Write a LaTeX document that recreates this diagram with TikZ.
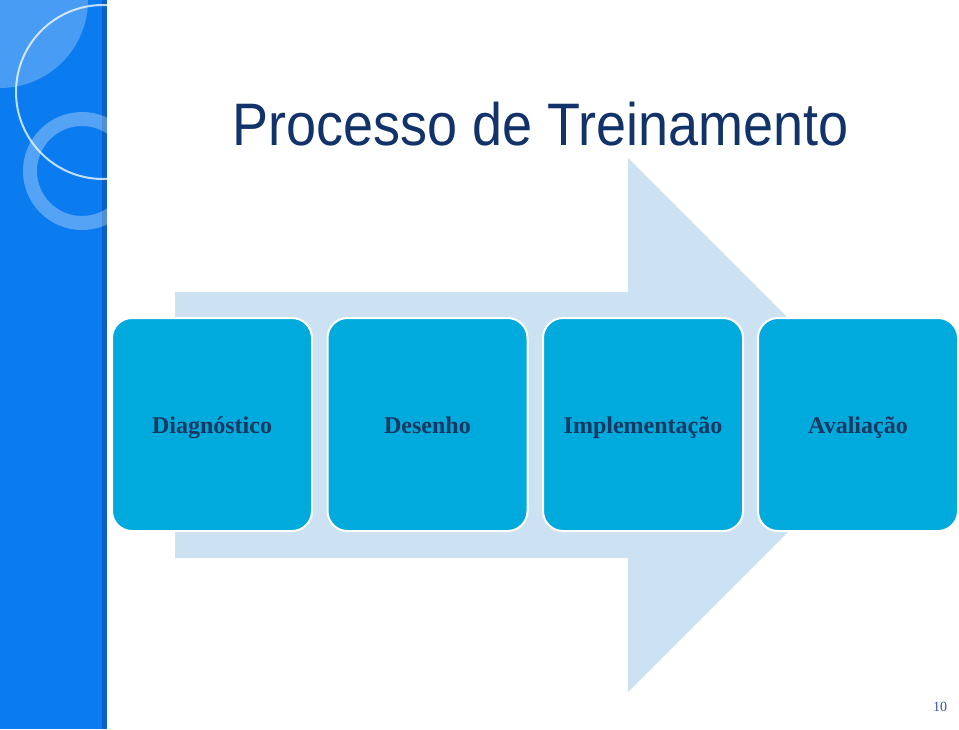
\documentclass[tikz,border=0pt]{standalone}
\usepackage{fontspec}
\setmainfont{Liberation Serif}
\newfontfamily\titlefont{Liberation Sans}

\definecolor{panelblue}{HTML}{0B7CF0}
\definecolor{paneledge}{HTML}{0A5FC8}
\definecolor{arrowblue}{HTML}{CCE2F2}
\definecolor{stepcyan}{HTML}{00AADC}
\definecolor{navy}{HTML}{12326A}
\definecolor{labelnavy}{HTML}{173860}
\definecolor{pageblue}{HTML}{2E55A8}

\begin{document}
\begin{tikzpicture}[
      x=1pt, y=-1pt,
      stepbox/.style={
        rectangle,
        rounded corners=20pt,
        draw=white,
        line width=2pt,
        fill=stepcyan,
        minimum width=200pt,
        minimum height=213pt,
        text height=22pt,
        text depth=5pt,
        font=\fontsize{24}{28}\selectfont\bfseries,
        text=labelnavy
      },
      heading/.style={
        anchor=base west,
        inner sep=0pt,
        font=\titlefont\fontsize{60}{66}\selectfont
      },
    ]
    \useasboundingbox (0,0) rectangle (959,729);

    % left panel
    \fill[panelblue] (0,0) rectangle (107,729);
    \fill[paneledge] (102,0) rectangle (107,729);
    \begin{scope}
      \clip (0,0) rectangle (107,729);
      \fill[white, opacity=0.25] (0,0) circle (88);
      \draw[white, opacity=0.75, line width=2pt] (103,92) circle (87);
      \draw[white, opacity=0.3, line width=14pt] (82,171) circle (52);
    \end{scope}

    % title
    \node[heading, text=navy] (title) at (232,145)
      {\scalebox{0.9}[1]{Processo de Treinamento}};

    % big arrow behind the steps
    \fill[arrowblue] (175,292) -- (628,292) -- (628,158) -- (895,425)
      -- (628,692) -- (628,558) -- (175,558) -- cycle;

    \node[stepbox] (diag) at (212,424.5) {Diagnóstico};
    \node[stepbox] (des) at (427.5,424.5) {Desenho};
    \node[stepbox] (impl) at (643,424.5) {Implementação};
    \node[stepbox] (aval) at (858,424.5) {Avaliação};

    \node[font=\fontsize{14}{16}\selectfont, text=pageblue] (page) at (940,707) {10};
  \end{tikzpicture}
\end{document}
